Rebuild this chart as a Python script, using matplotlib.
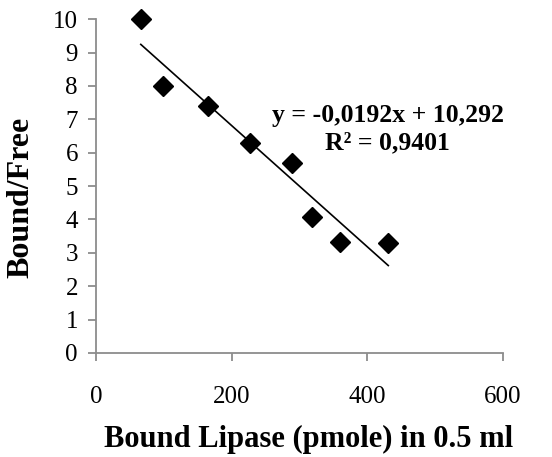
import numpy as np
import matplotlib
matplotlib.use("Agg")
import matplotlib.pyplot as plt

# data
bound_lipase = [66, 99, 165, 227, 289, 319, 360, 431]
bound_free = [10.0, 8.0, 7.4, 6.28, 5.68, 4.06, 3.32, 3.30]
eq_lines = ["y = -0,0192x + 10,292", "R² = 0,9401"]
x_ticks = [0, 200, 400, 600]
y_ticks = list(range(0, 11))

plt.rcParams['font.family'] = ['Liberation Serif', 'DejaVu Serif']

fig = plt.figure(figsize=(5.52, 4.57), dpi=100)
ax = fig.add_axes([0.174, 0.2276, 0.737, 0.7304])

ax.plot(bound_lipase, bound_free, linestyle='none', marker='D',
        markersize=10, color='black', zorder=3, clip_on=False)

# linear trend line
slope, intercept = np.polyfit(bound_lipase, bound_free, 1)
xs = np.array([min(bound_lipase), max(bound_lipase)])
ax.plot(xs, slope * xs + intercept, color='black', lw=1.2)

# equation label, one line each
ax.text(430, 6.92, eq_lines[0], ha='center', va='baseline', fontsize=18.5,
        fontweight='bold')
ax.text(430, 6.11, eq_lines[1], ha='center', va='baseline', fontsize=18.5,
        fontweight='bold')

ax.set_xlim(0, 600)
ax.set_ylim(0, 10)
ax.set_xticks(x_ticks)
ax.set_yticks(y_ticks)

for s in ['top', 'right']:
    ax.spines[s].set_visible(False)
for s in ['left', 'bottom']:
    ax.spines[s].set_color('#8c8c8c')
    ax.spines[s].set_linewidth(1.3)

ax.tick_params(axis='both', colors='#8c8c8c', length=6, width=1.3,
               labelsize=18, labelcolor='black')
ax.tick_params(axis='y', pad=7)
ax.tick_params(axis='x', pad=18)

ax.set_xlabel('Bound Lipase (pmole) in 0.5 ml', fontsize=22,
              fontweight='bold')
ax.set_ylabel('Bound/Free', fontsize=23, fontweight='bold')
ax.xaxis.set_label_coords(0.523, -0.215)
ax.yaxis.set_label_coords(-0.15, 0.467)

fig.savefig('out.png', dpi=100)
